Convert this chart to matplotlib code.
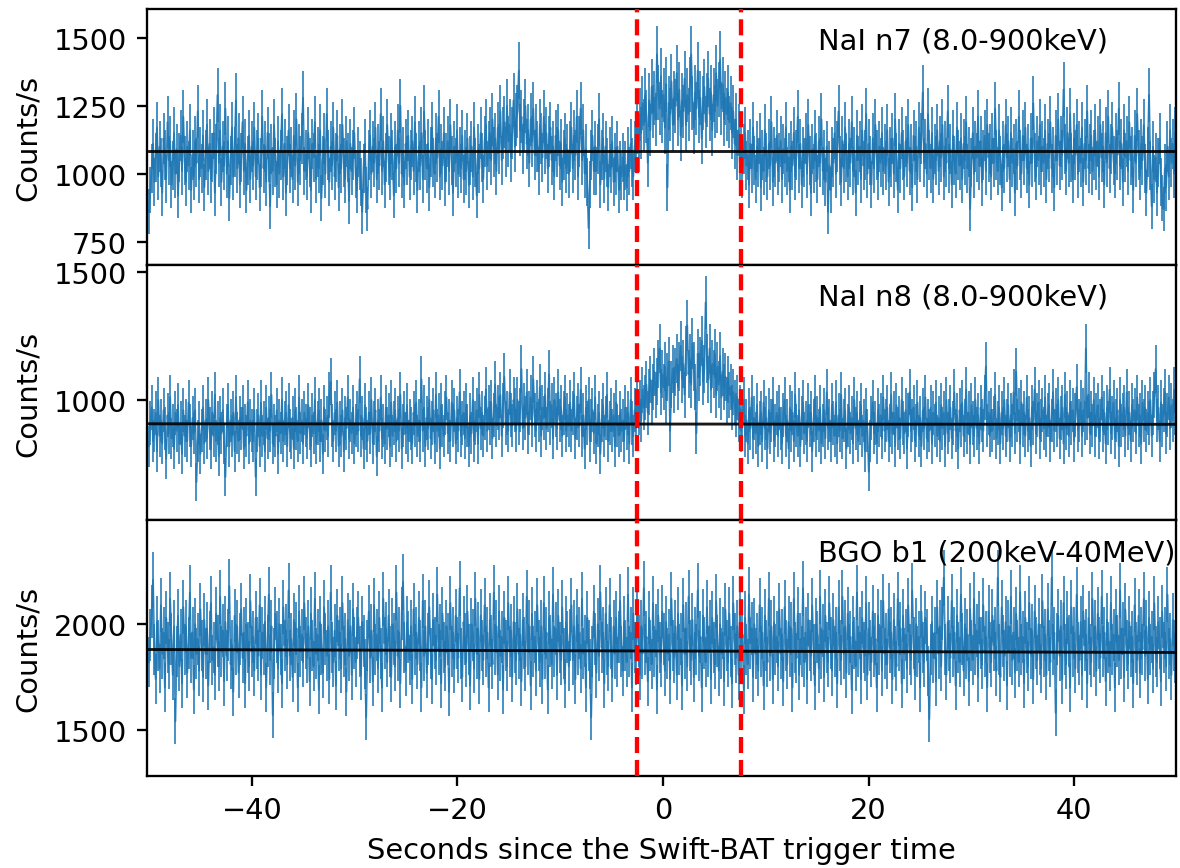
import numpy as np
import matplotlib.pyplot as plt

# binned light curves (counts/s), 0.128 s bins starting at -50 s
dt = 0.128
t0 = -50.0

n7_rate = [
    860, 940, 1020, 1110, 970, 1060, 1170, 990, 1100, 1040, 930, 1130, 1070, 980, 1190, 1050, 1120, 960, 1030, 1150, 1000, 1090, 920, 1060, 1140, 1010, 1210, 1050, 970, 1100, 1030, 1160, 940, 1070, 990, 1120, 1040, 1230, 980, 1080,
    1020, 1140, 950, 1070, 1180, 1010, 1110, 980, 1060, 1150, 930, 1090, 1290, 1040, 1160, 970, 1100, 1030, 1240, 1000, 1120, 910, 1050, 1170, 990, 1080, 1270, 1020, 1130, 960, 1060, 1190, 1010, 1110, 940, 1050, 1140, 980, 1100, 1030,
    1170, 990, 1070, 1130, 950, 1040, 1210, 1020, 1100, 970, 1150, 1060, 880, 1090, 1010, 1180, 1040, 960, 1120, 1000, 1070, 1220, 990, 1110, 930, 1050, 1160, 1020, 1080, 980, 1140, 1030, 1200, 970, 1090, 1050, 1130, 1280, 1010, 1070,
    990, 1150, 1040, 940, 1110, 1060, 1190, 980, 1080, 1020, 1160, 910, 1050, 1130, 1000, 1220, 1070, 970, 1100, 1030, 1170, 990, 1060, 1140, 950, 1090, 1020, 1180, 1040, 980, 1120, 1060, 900, 1110, 1010, 1070, 1150, 1000, 940, 1080,
    1030, 970, 860, 1020, 1110, 940, 870, 1070, 1140, 1000, 1100, 1040, 1170, 980, 1090, 1030, 1220, 1010, 1120, 960, 1060, 1180, 1050, 990, 1130, 1070, 920, 1100, 1020, 1160, 1040, 1250, 1000, 1080, 960, 1110, 1050, 1140, 990, 1070,
    1120, 1010, 1190, 1060, 940, 1100, 1030, 1150, 980, 1230, 1070, 1020, 1110, 950, 1080, 1170, 1040, 1000, 1130, 1060, 1210, 990, 1090, 1030, 1150, 970, 1060, 1120, 1010, 1180, 1050, 930, 1100, 1040, 1160, 1000, 1080, 1020, 1140, 980,
    1070, 1010, 1130, 960, 1050, 1100, 990, 1170, 1040, 920, 1090, 1020, 1150, 1060, 980, 1120, 1180, 1030, 1100, 1150, 1050, 1200, 1080, 1130, 1010, 1170, 1090, 1230, 1050, 1150, 1190, 1080, 1250, 1120, 1180, 1060, 1150, 1270, 1100, 1200,
    1230, 1380, 1160, 1210, 1090, 1180, 1250, 1110, 1160, 1040, 1200, 1120, 1240, 1070, 1160, 1100, 1010, 1180, 1130, 1060, 1210, 1090, 1150, 1020, 1120, 1170, 1050, 1100, 990, 1140, 1080, 1160, 1030, 1110, 970, 1070, 1130, 1020, 1090, 1000,
    1100, 1170, 1020, 1140, 1070, 1210, 990, 1120, 1240, 1050, 1160, 1000, 1090, 970, 800, 960, 1070, 1140, 1010, 1100, 1010, 1090, 1200, 960, 1070, 1130, 980, 1100, 1040, 950, 1080, 1020, 1120, 970, 1060, 1010, 1100, 940, 1030, 990,
    1060, 990, 1030, 950, 1080, 1010, 1110, 1040, 990, 1100, 1130, 1170, 1100, 1220, 1150, 1260, 1180, 1290, 1210, 1040, 1270, 1160, 1320, 1230, 1280, 1200, 1440, 1300, 1240, 1360, 1210, 1290, 1170, 1330, 950, 1260, 1220, 1340, 1180, 1280,
    1250, 1370, 1200, 1310, 1140, 1270, 1230, 1350, 1180, 1290, 1220, 1330, 1440, 1260, 1170, 1300, 1240, 1380, 1210, 1280, 1130, 1260, 1320, 1190, 1270, 1350, 1220, 1300, 1160, 1290, 1230, 1370, 1250, 1310, 1420, 1240, 1330, 1200, 1280, 1220,
    1300, 1190, 1260, 1150, 1230, 1110, 1200, 1070, 1160, 1040, 1120, 1000, 1090, 1150, 1030, 1070, 960, 1110, 1020, 1170, 1050, 980, 1100, 1040, 1130, 950, 1070, 1010, 1160, 1060, 990, 1110, 1030, 1190, 970, 1080, 1040, 1140, 1010, 1060,
    1120, 980, 1090, 1040, 1170, 1010, 1060, 940, 1100, 1030, 1150, 990, 1070, 1210, 1020, 1110, 960, 1080, 1040, 1130, 1000, 1180, 1050, 930, 1090, 1020, 1140, 1060, 980, 1120, 1040, 1200, 1010, 1070, 970, 1100, 860, 1030, 940, 1080,
    1040, 1150, 1000, 1100, 1230, 1050, 970, 1120, 1020, 1170, 1060, 990, 1110, 1040, 1190, 1010, 1080, 930, 1140, 1050, 1100, 980, 1160, 1030, 1070, 1220, 1000, 1110, 1050, 960, 1130, 1020, 1180, 1070, 990, 1100, 1040, 1150, 1010, 1090,
    1030, 1160, 970, 1080, 1040, 1130, 1000, 1200, 1060, 940, 1110, 1020, 1150, 1070, 990, 1120, 1040, 1180, 1010, 1090, 950, 1140, 1050, 1100, 980, 1170, 1060, 1130, 1300, 1040, 1110, 1000, 1220, 1070, 1020, 1150, 980, 1090, 1050, 1160,
    1010, 1120, 1060, 1180, 990, 1100, 1040, 1230, 1020, 1090, 960, 1140, 1050, 1000, 1170, 1070, 1030, 1130, 980, 1110, 1050, 1190, 1020, 1080, 870, 1040, 1150, 1000, 1100, 1060, 1210, 1030, 1120, 970, 1070, 1140, 1010, 1180, 1060, 1090,
    990, 1130, 1040, 1240, 1070, 1010, 1160, 1050, 950, 1100, 1020, 1180, 1060, 1120, 980, 1150, 1040, 1090, 930, 1110, 1030, 1210, 1070, 1000, 1140, 1050, 1170, 1020, 1090, 960, 1130, 1040, 1260, 1060, 990, 1120, 1050, 1180, 1010, 1100,
    1040, 1160, 980, 1110, 1060, 1190, 1020, 1080, 950, 1140, 1050, 1200, 1030, 1120, 1070, 1310, 1090, 1010, 1150, 1040, 1220, 1060, 980, 1130, 1070, 1180, 1000, 1100, 1040, 1170, 970, 1110, 1050, 1230, 1020, 1090, 1140, 1010, 1070, 1160,
    1030, 1120, 990, 1180, 1060, 1100, 960, 1150, 1040, 1210, 1020, 1090, 1170, 1050, 1000, 1130, 1070, 1240, 1030, 1110, 970, 1160, 1060, 1120, 1010, 1190, 1050, 1080, 940, 1140, 1040, 1220, 1070, 990, 1110, 1050, 1180, 1020, 930, 1080,
    1290, 1030, 880, 1100, 980, 1060, 930, 1040, 1130, 970, 910, 870, 1020, 950, 1100, 990, 1160, 1040, 1110, 1000, 1150, 1070,
]

n8_rate = [
    820, 910, 970, 840, 880, 950, 800, 1000, 860, 920, 830, 960, 890, 770, 940, 870, 1010, 850, 900, 810, 950, 880, 980, 830, 910, 790, 960, 860, 920, 840, 990, 900, 820, 930, 870, 960, 680, 840, 910, 790,
    880, 970, 830, 920, 850, 1000, 890, 810, 950, 860, 1020, 840, 910, 780, 930, 870, 960, 830, 700, 900, 980, 820, 920, 860, 950, 800, 1010, 870, 840, 930, 890, 970, 810, 900, 860, 990, 830, 920, 880, 840,
    960, 700, 880, 940, 820, 990, 860, 910, 800, 970, 850, 930, 880, 1020, 830, 900, 860, 960, 790, 920, 870, 1000, 840, 910, 950, 820, 980, 880, 850, 930, 810, 960, 890, 840, 1010, 870, 920, 830, 950, 900,
    850, 980, 890, 820, 940, 870, 1000, 830, 910, 960, 840, 920, 790, 970, 880, 930, 860, 1020, 1070, 900, 840, 950, 880, 990, 820, 910, 860, 960, 800, 930, 890, 1010, 850, 920, 870, 970, 830, 900, 950, 880,
    1080, 860, 930, 810, 980, 890, 840, 950, 870, 1000, 830, 910, 960, 780, 920, 880, 1010, 850, 900, 830, 970, 890, 940, 820, 990, 860, 910, 960, 840, 930, 880, 1020, 810, 900, 950, 870, 980, 840, 920, 890,
    830, 950, 900, 990, 860, 920, 840, 1080, 880, 970, 820, 930, 890, 1000, 850, 910, 960, 830, 1020, 880, 940, 810, 980, 900, 860, 950, 1010, 870, 920, 840, 990, 900, 960, 830, 930, 880, 1030, 860, 910, 950,
    850, 980, 900, 820, 940, 870, 1000, 840, 910, 960, 830, 1020, 890, 950, 860, 930, 1040, 880, 970, 910, 990, 850, 940, 1060, 900, 970, 930, 1020, 860, 980, 1090, 910, 950, 880, 1030, 940, 900, 1000, 960, 880,
    1000, 910, 960, 1120, 890, 980, 930, 1030, 870, 950, 1010, 900, 1080, 940, 880, 990, 920, 1050, 860, 970, 930, 1020, 890, 960, 1100, 910, 980, 850, 1000, 940, 890, 1030, 920, 970, 860, 950, 1010, 880, 940, 900,
    990, 880, 950, 1020, 850, 930, 980, 900, 1040, 860, 940, 810, 970, 910, 1000, 840, 920, 960, 870, 1010, 830, 900, 950, 790, 920, 980, 860, 930, 1020, 840, 910, 960, 880, 940, 820, 990, 900, 860, 950, 880,
    920, 840, 970, 890, 950, 830, 1000, 910, 860, 960, 900, 1020, 950, 990, 920, 1040, 970, 1010, 1060, 950, 1030, 1080, 990, 1050, 1110, 1020, 1070, 1140, 1200, 1030, 1100, 1050, 1130, 1000, 1090, 1150, 880, 1060, 1120, 1040,
    1110, 1160, 1050, 1130, 1210, 1080, 1140, 1020, 1190, 1290, 1100, 1160, 1060, 1220, 1130, 1050, 870, 1180, 1090, 1150, 1230, 1070, 1120, 1380, 1160, 1080, 1200, 1040, 1140, 1100, 1180, 1020, 1130, 1060, 1170, 1010, 1110, 1050, 1090, 1000,
    1080, 1020, 1050, 970, 1030, 990, 940, 1010, 920, 970, 880, 940, 1000, 860, 920, 830, 960, 890, 1010, 850, 930, 870, 980, 820, 910, 950, 840, 990, 890, 930, 810, 960, 870, 920, 1000, 840, 900, 950, 860, 970,
    890, 830, 940, 1000, 860, 920, 810, 970, 880, 950, 840, 1020, 900, 860, 960, 820, 930, 990, 870, 910, 840, 980, 900, 950, 800, 920, 1010, 860, 930, 880, 970, 830, 900, 960, 850, 1030, 890, 920, 840, 980,
    910, 860, 990, 830, 940, 880, 1020, 850, 920, 960, 810, 900, 970, 870, 930, 830, 1000, 890, 950, 840, 910, 980, 860, 920, 800, 960, 880, 720, 840, 930, 990, 870, 910, 830, 960, 900, 940, 850, 1010, 880,
    920, 970, 840, 900, 1020, 870, 950, 820, 980, 890, 930, 850, 1000, 910, 870, 960, 810, 940, 1030, 880, 920, 970, 840, 900, 990, 860, 930, 820, 960, 890, 1010, 850, 920, 880, 970, 830, 950, 900, 990, 860,
    930, 840, 980, 890, 950, 820, 1000, 870, 920, 970, 850, 910, 1030, 880, 940, 810, 960, 900, 990, 860, 920, 1040, 870, 950, 830, 980, 910, 860, 1000, 890, 940, 830, 970, 920, 880, 1010, 1130, 900, 950, 860,
    960, 880, 930, 1020, 850, 910, 970, 830, 950, 890, 1000, 860, 920, 980, 840, 940, 900, 1030, 870, 1110, 920, 960, 830, 990, 900, 950, 860, 1010, 880, 930, 820, 970, 910, 1040, 870, 940, 990, 850, 920, 960,
    890, 1010, 860, 940, 980, 840, 920, 1030, 880, 960, 900, 1000, 850, 930, 970, 830, 1020, 890, 950, 860, 990, 910, 960, 840, 940, 1050, 880, 920, 990, 860, 960, 910, 1200, 930, 1020, 870, 950, 900, 1000, 860,
    940, 980, 850, 920, 1010, 880, 950, 830, 970, 910, 1040, 870, 930, 990, 850, 920, 960, 820, 1000, 900, 940, 970, 860, 1030, 890, 950, 840, 980, 920, 960, 870, 1010, 900, 940, 830, 990, 920, 970, 880, 950,
    910, 1000, 860, 950, 1020, 1120, 920, 970, 840, 990, 900, 960, 1030, 870, 940, 1010, 890, 980, 920, 1040, 950, 1000,
]

b1_rate = [
    1820, 1950, 2060, 2210, 1880, 1740, 2010, 1900, 1790, 2090, 1860, 1960, 1700, 2030, 1890, 1810, 2120, 1930, 1760, 1990, 1540, 1870, 2040, 1800, 1950, 1720, 2080, 1880, 1990, 1770, 1910, 2150, 1840, 1960, 1690, 2000, 1860, 1930, 1780, 2070,
    1900, 1750, 2020, 1860, 1980, 1710, 1940, 2100, 1830, 1890, 1760, 2050, 1920, 1800, 2130, 1870, 1970, 1730, 2010, 1850, 1950, 2180, 1810, 1900, 1680, 2040, 1880, 1990, 1770, 1930, 2070, 1840, 1960, 1720, 2000, 1890, 1800, 2110, 1870, 1940,
    1780, 2030, 1910, 1850, 2090, 1760, 1960, 1880, 2010, 1700, 1920, 2140, 1830, 1990, 1570, 1860, 2050, 1940, 1790, 2000, 1880, 1720, 2080, 1900, 1970, 1810, 2160, 1850, 1930, 1750, 2020, 1890, 1980, 1700, 2060, 1870, 1950, 1820, 2100, 1910,
    1840, 1990, 1730, 2050, 1900, 1800, 2120, 1860, 1950, 1690, 2010, 1880, 1770, 2080, 1930, 1850, 1990, 1740, 2150, 1890, 1820, 1970, 1710, 2040, 1900, 1960, 1790, 2100, 1870, 1930, 1680, 2020, 1850, 1990, 1760, 2070, 1910, 1820, 1960, 2030,
    1870, 1760, 2010, 1920, 1810, 1560, 1900, 2060, 1840, 1970, 1730, 2090, 1880, 1950, 1790, 2030, 1860, 1700, 2120, 1910, 1980, 1820, 2040, 1870, 1750, 2000, 1930, 1800, 2150, 1850, 1960, 1720, 2050, 2200, 1890, 1780, 2010, 1940, 1830, 1990,
    1740, 2070, 1880, 1960, 1810, 2030, 1900, 1700, 2110, 1850, 1990, 1770, 1930, 2080, 1860, 1740, 2020, 1910, 1830, 2140, 1880, 1970, 1720, 2050, 1890, 1800, 1990, 1930, 1680, 2100, 1870, 1960, 1790, 2040, 1910, 1840, 2170, 1860, 1750, 2010,
    1930, 1820, 2060, 1880, 1710, 2000, 1950, 1790, 2120, 1860, 1980, 1740, 2040, 1900, 1830, 2090, 1870, 1960, 1700, 2020, 1920, 1810, 2150, 1880, 1990, 1760, 2060, 1850, 1940, 1690, 2030, 1900, 1800, 2100, 1870, 1970, 1750, 2010, 1890, 1830,
    2070, 1860, 1950, 1730, 2020, 1910, 1800, 2130, 1880, 1990, 1710, 2050, 1870, 1940, 1780, 2090, 1900, 1820, 1990, 1740, 2100, 1860, 1960, 1690, 2030, 1920, 1810, 2140, 1870, 1980, 1760, 2040, 1890, 1830, 2080, 1860, 1720, 2010, 1940, 1800,
    1950, 2090, 1830, 1990, 1740, 2040, 1880, 1960, 1790, 2120, 1860, 1920, 1700, 2030, 1900, 1810, 1560, 1870, 2060, 1930, 1770, 2000, 1850, 2150, 1890, 1960, 1720, 2050, 1880, 1800, 2090, 1910, 1750, 1990, 1860, 2030, 1820, 1940, 2110, 1870,
    1780, 2010, 1900, 1820, 2140, 1870, 1960, 1700, 2050, 1890, 1830, 2080, 1920, 1760, 1990, 1860, 2170, 1880, 1940, 1730, 2030, 1900, 1810, 2100, 1870, 1970, 1690, 2040, 1890, 1820, 2060, 1930, 1780, 2010, 1860, 1950, 1740, 2120, 1900, 1840,
    1990, 1760, 2050, 1880, 1930, 1710, 2090, 1860, 1980, 1800, 2130, 1900, 1830, 2020, 1750, 1960, 1880, 2160, 1850, 1940, 1700, 2040, 1910, 1820, 2080, 1870, 1990, 1740, 2030, 1890, 1810, 2110, 1920, 1780, 2000, 1860, 1960, 1730, 2070, 1900,
    1820, 2050, 1870, 1720, 2100, 1930, 1840, 1990, 1760, 2060, 1890, 1950, 1690, 2030, 1880, 1810, 2140, 1910, 1980, 1750, 2000, 1860, 1930, 1780, 2090, 1870, 1960, 1710, 2040, 1900, 1820, 2120, 1850, 1990, 1740, 2010, 1880, 1940, 1800, 2070,
    1860, 1950, 1730, 2080, 1900, 1810, 2010, 1870, 1980, 1700, 2120, 1890, 1840, 2050, 1760, 1930, 1870, 2170, 1820, 1960, 1740, 2020, 1900, 1850, 2090, 1880, 1710, 2000, 1940, 1790, 2130, 1860, 1970, 1750, 2040, 1890, 1820, 2100, 1910, 1780,
    2020, 1870, 1960, 1720, 2080, 1900, 1830, 2130, 1860, 1990, 1770, 2050, 1880, 1940, 1690, 2010, 1910, 1800, 2150, 1870, 1960, 1740, 2030, 1890, 1850, 2100, 1760, 1980, 1900, 1820, 2060, 1870, 1930, 1700, 2040, 1880, 1990, 1780, 2110, 1860,
    1930, 1810, 2070, 1890, 1960, 1740, 2020, 1870, 1800, 2120, 1900, 1980, 1720, 2040, 1860, 1950, 1790, 2090, 1880, 1830, 2160, 1910, 1760, 2000, 1870, 1940, 1700, 2060, 1890, 1820, 2030, 1950, 1780, 1550, 1880, 2010, 1840, 1960, 1730, 2080,
    1860, 1990, 1800, 2050, 2220, 1880, 1760, 2010, 1900, 1840, 2110, 1870, 1960, 1710, 2040, 1890, 1820, 2140, 1930, 1780, 2000, 1860, 1950, 1730, 2070, 1900, 1830, 2120, 1880, 1970, 1750, 2030, 1910, 1810, 2090, 1870, 1940, 1700, 2060, 1890,
    1820, 2040, 1900, 1960, 1780, 2220, 1880, 1750, 2080, 1920, 1850, 2010, 1710, 1990, 1870, 2130, 1830, 1960, 1770, 2050, 1900, 1820, 2150, 1880, 1940, 1720, 2030, 1890, 1800, 2100, 1860, 1970, 1740, 2060, 1910, 1830, 2000, 1880, 1790, 2110,
    1870, 1950, 1760, 2070, 1900, 1820, 2220, 1880, 1960, 1580, 1930, 2040, 1850, 1990, 1740, 2100, 1880, 1810, 2030, 1920, 1700, 2080, 1870, 1960, 1790, 2140, 1890, 1830, 2010, 1760, 2060, 1900, 1950, 1720, 2030, 1880, 1820, 2120, 1870, 1990,
    1780, 2050, 1910, 1840, 2130, 1870, 1960, 1730, 2020, 1890, 1800, 2100, 1880, 1950, 1700, 2040, 1920, 1830, 2160, 1860, 1980, 1750, 2070, 1900, 1810, 2010, 1870, 1940, 1720, 2090, 1890, 1830, 2040, 1770, 1960, 1880, 2120, 1850, 1990, 1740,
    2030, 1880, 1940, 1790, 2100, 1870, 1820, 2010, 1910, 1730, 2060, 1890, 1960, 1800, 2140, 1860, 1930, 1760, 2020, 1900, 1840, 2080,
]

# fitted background levels at start / end of the window
n7_bkg = [1084, 1084]
n8_bkg = [907, 905]
b1_bkg = [1880, 1866]

labels = ["NaI n7 (8.0-900keV)", "NaI n8 (8.0-900keV)", "BGO b1 (200keV-40MeV)"]
ylims = [(665, 1607), (531, 1527), (1281, 2492)]
yticks = [[750, 1000, 1250, 1500], [1000, 1500], [1500, 2000]]

# source interval
t_start, t_stop = -2.5, 7.6

fig, axes = plt.subplots(3, 1, sharex=True, figsize=(1180 / 208, 869 / 208), dpi=208)
fig.subplots_adjust(left=0.1246, right=0.9966, top=0.9885, bottom=0.1059, hspace=0)

for ax, rate, bkg, lab, yl, yt in zip(axes, [n7_rate, n8_rate, b1_rate],
                                      [n7_bkg, n8_bkg, b1_bkg], labels, ylims, yticks):
    rate = np.array(rate, dtype=float)
    t = t0 + dt * np.arange(len(rate))
    err = np.sqrt(rate * dt) / dt
    ax.errorbar(t, rate, yerr=err, color="C0", lw=0.65, elinewidth=0.65,
                alpha=0.85, zorder=2)
    # background fit drawn over the data
    ax.plot([-50, 50], bkg, color="black", lw=1.0, alpha=0.9, zorder=3)
    ax.axvline(t_start, color="red", ls="--", lw=1.5, zorder=4)
    ax.axvline(t_stop, color="red", ls="--", lw=1.5, zorder=4)
    ax.text(0.652, 0.875, lab, transform=ax.transAxes, fontsize=10, va="center")
    ax.set_ylim(yl)
    ax.set_yticks(yt)
    ax.set_ylabel("Counts/s")

for ax in axes[:2]:
    ax.tick_params(axis="x", bottom=False, labelbottom=False)

axes[-1].set_xlim(-50.2, 49.9)
axes[-1].set_xlabel("Seconds since the Swift-BAT trigger time")

plt.savefig("out.png")
